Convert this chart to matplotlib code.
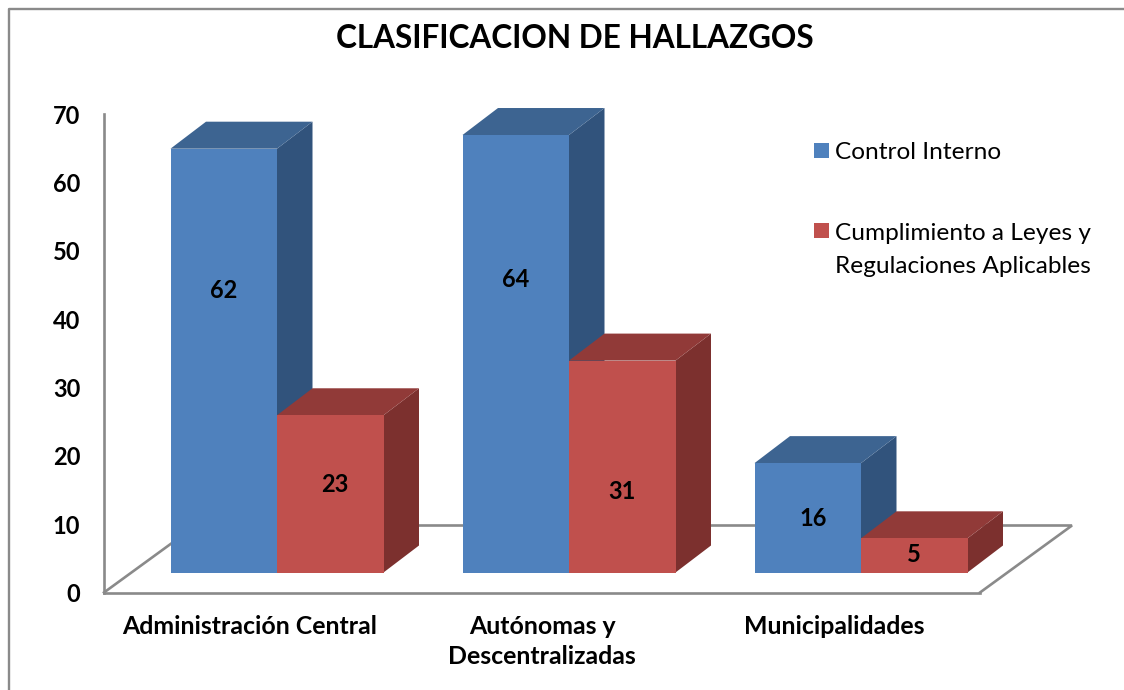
import matplotlib
matplotlib.use("Agg")
import matplotlib.pyplot as plt
from matplotlib.legend_handler import HandlerPatch
from matplotlib.lines import Line2D
from matplotlib.patches import Patch, Polygon, Rectangle

# ---- data ----
categories = ["Administración Central", "Autónomas y\nDescentralizadas", "Municipalidades"]
series_names = ["Control Interno", "Cumplimiento a Leyes y\nRegulaciones Aplicables"]
control_interno = [62, 64, 16]
cumplimiento = [23, 31, 5]
y_ticks = [0, 10, 20, 30, 40, 50, 60, 70]
title = "CLASIFICACION DE HALLAZGOS"

# ---- style ----
W, H = 1124, 690
plt.rcParams["font.family"] = ["Lato", "DejaVu Sans"]
GRID = "#8A8A8A"
FACES = [("#4F81BD", "#3D6491", "#31537C"), ("#C0504D", "#913A38", "#7C302E")]
# manually placed data labels in the source: (pixel dx, fraction of bar height)
LABEL_PLACE = [[(0, .665), (0, .67), (5, .49)], [(5, .557), (0, .38), (0, .52)]]

fig = plt.figure(figsize=(W / 100, H / 100), dpi=100, facecolor="white")
ax = fig.add_axes([104 / W, 1 - 592.5 / H, 876 / W, 478.5 / H])
ax.set_xlim(-0.5, 2.5)
ax.set_ylim(0, 70)
ax.patch.set_visible(False)
for s in ("top", "right"):
    ax.spines[s].set_visible(False)
for s in ("left", "bottom"):
    ax.spines[s].set_color(GRID)
    ax.spines[s].set_linewidth(1.9)
ax.tick_params(length=0)
ax.set_yticks(y_ticks)
ax.set_yticklabels([str(v) for v in y_ticks], fontsize=17, fontweight="bold", color="black")
ax.tick_params(axis="y", pad=17)
ax.set_xticks(range(len(categories)))
ax.set_xticklabels(categories, fontsize=17.9, fontweight="bold", color="black", linespacing=1.35)
ax.tick_params(axis="x", pad=16.5)

unit_x = 876 / 3          # pixels per category
unit_y = 478.5 / 70       # pixels per value
def px_x(p): return p / unit_x
def px_y(p): return p / unit_y

# floor (parallelogram outline)
fdx, fdy = px_x(92), px_y(67)
ax.plot([-0.5, -0.5 + fdx, 2.5 + fdx, 2.5], [0, fdy, fdy, 0], color=GRID, lw=1.9,
        clip_on=False, zorder=1, solid_joinstyle="miter")

# bars
bar_w = 106.5 / unit_x
ox, oy = px_x(27), px_y(20)      # bar front offset from the front edge of the floor
dx, dy = px_x(35.5), px_y(27)    # bar depth
for j, values in enumerate([control_interno, cumplimiento]):
    front, top, side = FACES[j]
    for i, v in enumerate(values):
        x0 = i + ox + (j - 1) * bar_w
        x1 = x0 + bar_w
        y0, y1 = oy, oy + v
        z = 2 + j + i * 3
        ax.add_patch(Polygon([(x1, y0), (x1 + dx, y0 + dy), (x1 + dx, y1 + dy), (x1, y1)],
                             facecolor=side, edgecolor="none", clip_on=False, zorder=z))
        ax.add_patch(Polygon([(x0, y1), (x0 + dx, y1 + dy), (x1 + dx, y1 + dy), (x1, y1)],
                             facecolor=top, edgecolor="none", clip_on=False, zorder=z))
        ax.bar(x0, v, width=bar_w, bottom=oy, align="edge", color=front,
               edgecolor="none", clip_on=False, zorder=z + 0.5)
        pdx, frac = LABEL_PLACE[j][i]
        ax.text((x0 + x1) / 2 + px_x(pdx), y0 + v * frac, str(v), ha="center", va="center",
                fontsize=17, fontweight="bold", color="black", zorder=20)

# title
fig.text(574.5 / W, 1 - 39 / H, title, ha="center", va="center", fontsize=22.7, fontweight="bold")

# legend: the swatch of a two-line entry sits beside its first line
def swatch(shift):
    def make(legend, orig_handle, xdescent, ydescent, width, height, fontsize):
        return Rectangle((-xdescent, -ydescent + shift), width, height)
    return HandlerPatch(patch_func=make)

handles = [Patch(facecolor=FACES[0][0]), Patch(facecolor=FACES[1][0])]
leg = fig.legend(handles, series_names, loc="upper left", bbox_to_anchor=(814 / W, 1 - 142 / H),
                 frameon=False, fontsize=17.6, handlelength=0.61, handleheight=0.61,
                 handletextpad=0.25, labelspacing=2.45, borderpad=0, borderaxespad=0,
                 handler_map={handles[1]: swatch(14)})
for t in leg.get_texts():
    t.set_linespacing(1.71)

# chart frame (left and top only, the crop cuts the rest)
fig.add_artist(Line2D([8.5 / W, 8.5 / W, 1], [0, 1 - 9 / H, 1 - 9 / H], color="#8A8A8A", lw=1.7,
                      transform=fig.transFigure))

fig.savefig("out.png", dpi=100)
